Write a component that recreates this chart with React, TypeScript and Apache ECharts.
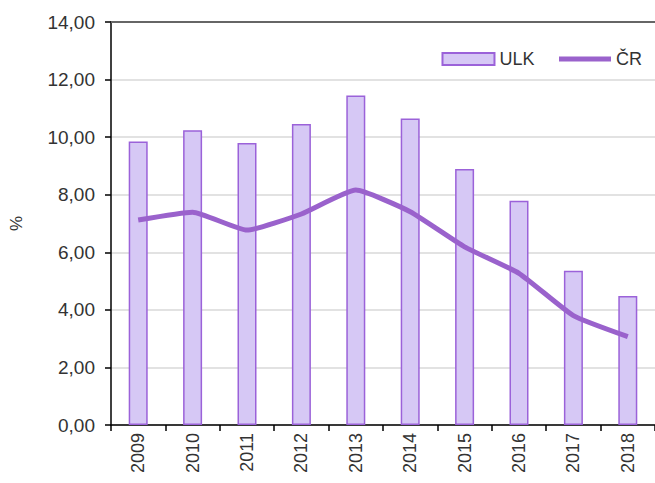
import React, { useEffect, useRef } from "react";
import * as echarts from "echarts";

const years = ["2009", "2010", "2011", "2012", "2013", "2014", "2015", "2016", "2017", "2018"];
const ulk = [9.85, 10.24, 9.8, 10.46, 11.45, 10.65, 8.89, 7.79, 5.36, 4.48];
const cr = [7.12, 7.39, 6.77, 7.33, 8.16, 7.41, 6.19, 5.27, 3.8, 3.07];
const yTicks = { min: 0, max: 14, interval: 2 };

export default function App() {
  const ref = useRef<HTMLDivElement>(null);
  useEffect(() => {
    if (!ref.current) return;
    const chart = echarts.init(ref.current, undefined, { renderer: "svg" });
    const font = "'Liberation Sans', Arial, sans-serif";
    chart.setOption({
      animation: false,
      backgroundColor: "#ffffff",
      textStyle: { fontFamily: font },
      grid: { left: 110, right: 0, top: 22, bottom: 58 },
      legend: {
        right: 8,
        top: 45,
        itemWidth: 52,
        itemHeight: 12,
        itemGap: 22,
        textStyle: { fontSize: 18, color: "#333", fontFamily: font },
        data: [
          { name: "ULK", icon: "rect" },
          {
            name: "ČR",
            itemStyle: { color: "rgba(0,0,0,0)", borderColor: "rgba(0,0,0,0)", borderWidth: 0 },
            lineStyle: { color: "#9a62cc", width: 5 },
          },
        ],
      },
      xAxis: [
        {
          type: "category",
          data: years,
          axisLine: { lineStyle: { color: "#000", width: 1.5 } },
          axisTick: { show: true, length: 6, lineStyle: { color: "#000", width: 1.5 } },
          axisLabel: { rotate: 90, fontSize: 18, color: "#333", fontFamily: font, margin: 8 },
        },
        {
          type: "category",
          data: years,
          position: "top",
          axisLine: { show: true, lineStyle: { color: "#666", width: 2 } },
          axisTick: { show: false },
          axisLabel: { show: false },
        },
      ],
      yAxis: {
        type: "value",
        min: yTicks.min,
        max: yTicks.max,
        interval: yTicks.interval,
        name: "%",
        nameLocation: "middle",
        nameGap: 86,
        nameTextStyle: { fontSize: 17, color: "#333", fontFamily: font },
        axisLine: { show: true, lineStyle: { color: "#000", width: 1.5 } },
        axisTick: { show: true, length: 6, lineStyle: { color: "#000", width: 1.5 } },
        axisLabel: {
          fontSize: 19,
          color: "#333",
          fontFamily: font,
          margin: 16,
          formatter: (v: number) => v.toFixed(2).replace(".", ","),
        },
        splitLine: { lineStyle: { color: "#d9d9d9", width: 1.5 } },
      },
      series: [
        {
          name: "ULK",
          type: "bar",
          data: ulk,
          barWidth: 19,
          itemStyle: { color: "#d6c8f5", borderColor: "#9b62d9", borderWidth: 1.5 },
        },
        {
          name: "ČR",
          type: "line",
          data: cr,
          smooth: 0.15,
          symbol: "none",
          lineStyle: { color: "#9a62cc", width: 5 },
          itemStyle: { color: "#9a62cc" },
        },
      ],
    });
    return () => chart.dispose();
  }, []);
  return (
    <div
      ref={ref}
      style={{ position: "absolute", left: 0, top: 0, width: 655, height: 483 }}
    />
  );
}
